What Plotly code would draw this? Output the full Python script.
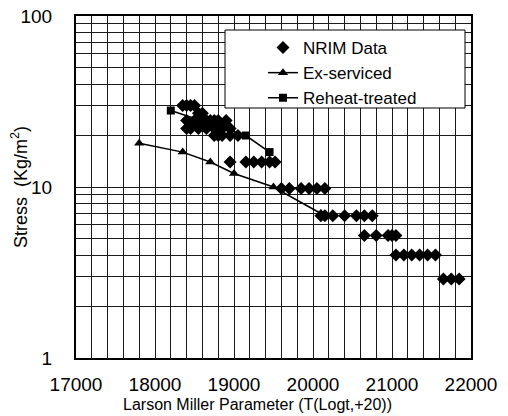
import plotly.graph_objects as go

# NRIM data (diamonds)
nrim_x = [18350, 18400, 18450, 18500,
          18550, 18600,
          18400, 18500, 18600, 18650, 18700, 18750, 18800, 18900,
          18400, 18450, 18550, 18650, 18750, 18850, 18950,
          18750, 18800, 18850, 18950, 19050,
          18950, 19150, 19250, 19350, 19450, 19520,
          19600, 19700, 19850, 19950, 20050, 20150,
          20100, 20150, 20250, 20400, 20550, 20650, 20750,
          20650, 20800, 20950, 21000, 21050,
          21050, 21150, 21250, 21350, 21450, 21550,
          21650, 21750, 21850]
nrim_y = [30, 30, 30, 30,
          27, 27,
          24.5, 24.5, 24.5, 24.5, 24.5, 24.5, 24.5, 24.5,
          22, 22, 22, 22, 22, 22, 22,
          20, 20, 20, 20, 20,
          14, 14, 14, 14, 14, 14,
          9.8, 9.8, 9.8, 9.8, 9.8, 9.8,
          6.8, 6.8, 6.8, 6.8, 6.8, 6.8, 6.8,
          5.2, 5.2, 5.2, 5.2, 5.2,
          4.0, 4.0, 4.0, 4.0, 4.0, 4.0,
          2.9, 2.9, 2.9]

# Ex-serviced (triangles)
ex_x = [17800, 18350, 18700, 19000, 19500, 20100]
ex_y = [18, 16, 14, 12, 10, 7]

# Reheat-treated (squares)
rh_x = [18200, 19150, 19450]
rh_y = [28, 20, 16]

x_ticks = [17000, 18000, 19000, 20000, 21000, 22000]
y_ticks = [1, 10, 100]
y_minor = [2, 3, 4, 5, 6, 7, 8, 9, 20, 30, 40, 50, 60, 70, 80, 90]

FONT = "Liberation Sans, Arial, Helvetica, sans-serif"
GRID = "#1a1a1a"

# page body has an ~8px default margin; plot area intended at x 76..471, y 16..358 of the window
OFF = 8
PL, PR, PT, PB = 76 - OFF, 471 - OFF, 16 - OFF, 358 - OFF
W, H = 508 - OFF, 416 - OFF
PW, PH = PR - PL, PB - PT


def px(xw):
    return (xw - OFF - PL) / PW


def py(yw):
    return (PB - (yw - OFF)) / PH


fig = go.Figure()
fig.add_trace(go.Scatter(x=nrim_x, y=nrim_y, mode="markers", name="NRIM Data",
                         legendgroup="a",
                         marker=dict(symbol="diamond", size=10, color="black")))
fig.add_trace(go.Scatter(x=ex_x, y=ex_y, mode="lines+markers", name="Ex-serviced",
                         legendgroup="b",
                         line=dict(color="black", width=1.5),
                         marker=dict(symbol="triangle-up", size=9, color="black")))
fig.add_trace(go.Scatter(x=rh_x, y=rh_y, mode="lines+markers", name="Reheat-treated",
                         legendgroup="c",
                         line=dict(color="black", width=1.5),
                         marker=dict(symbol="square", size=8, color="black")))

fig.update_layout(
    width=W, height=H,
    margin=dict(l=PL, r=W - PR, t=PT, b=H - PB, autoexpand=False),
    paper_bgcolor="white", plot_bgcolor="white",
    font=dict(family=FONT, color="black", size=17),
    showlegend=True,
    legend=dict(x=px(263), y=py(30), xanchor="left", yanchor="top",
                bgcolor="rgba(255,255,255,0)", borderwidth=0,
                font=dict(size=17, family=FONT), tracegroupgap=0,
                itemwidth=30),
    shapes=[dict(type="rect", xref="paper", yref="paper",
                 x0=px(225), x1=px(465), y0=py(108), y1=py(30),
                 fillcolor="white", line=dict(color="black", width=1), layer="above")],
    annotations=[dict(text="Larson Miller Parameter (T(Logt,+20))", xref="paper", yref="paper",
                      x=px(257), y=py(405), showarrow=False,
                      xanchor="center", yanchor="middle", font=dict(size=16, family=FONT))],
)

fig.update_xaxes(
    range=[17000, 22000], tickvals=x_ticks, ticktext=[str(v) for v in x_ticks],
    showgrid=True, gridcolor=GRID, gridwidth=1.2,
    minor=dict(dtick=200, showgrid=True, gridcolor=GRID, gridwidth=1.2),
    showline=True, linecolor="black", linewidth=2, mirror=True,
    ticks="", zeroline=False, tickfont=dict(size=19), ticklabelstandoff=8,
    ticklabeloverflow="allow", automargin=False,
)
fig.update_yaxes(
    type="log", range=[0, 2], tickvals=y_ticks, ticktext=[str(v) for v in y_ticks],
    showgrid=True, gridcolor=GRID, gridwidth=1.2,
    minor=dict(tickvals=y_minor, showgrid=True, gridcolor=GRID, gridwidth=1.2),
    showline=True, linecolor="black", linewidth=2, mirror=True,
    ticks="", zeroline=False, tickfont=dict(size=19), ticklabelstandoff=18,
    ticklabeloverflow="allow",
    title=dict(text="Stress  (Kg/m<sup>2</sup>)", font=dict(size=18), standoff=10),
    automargin=False,
)

fig.write_html("out.html")
